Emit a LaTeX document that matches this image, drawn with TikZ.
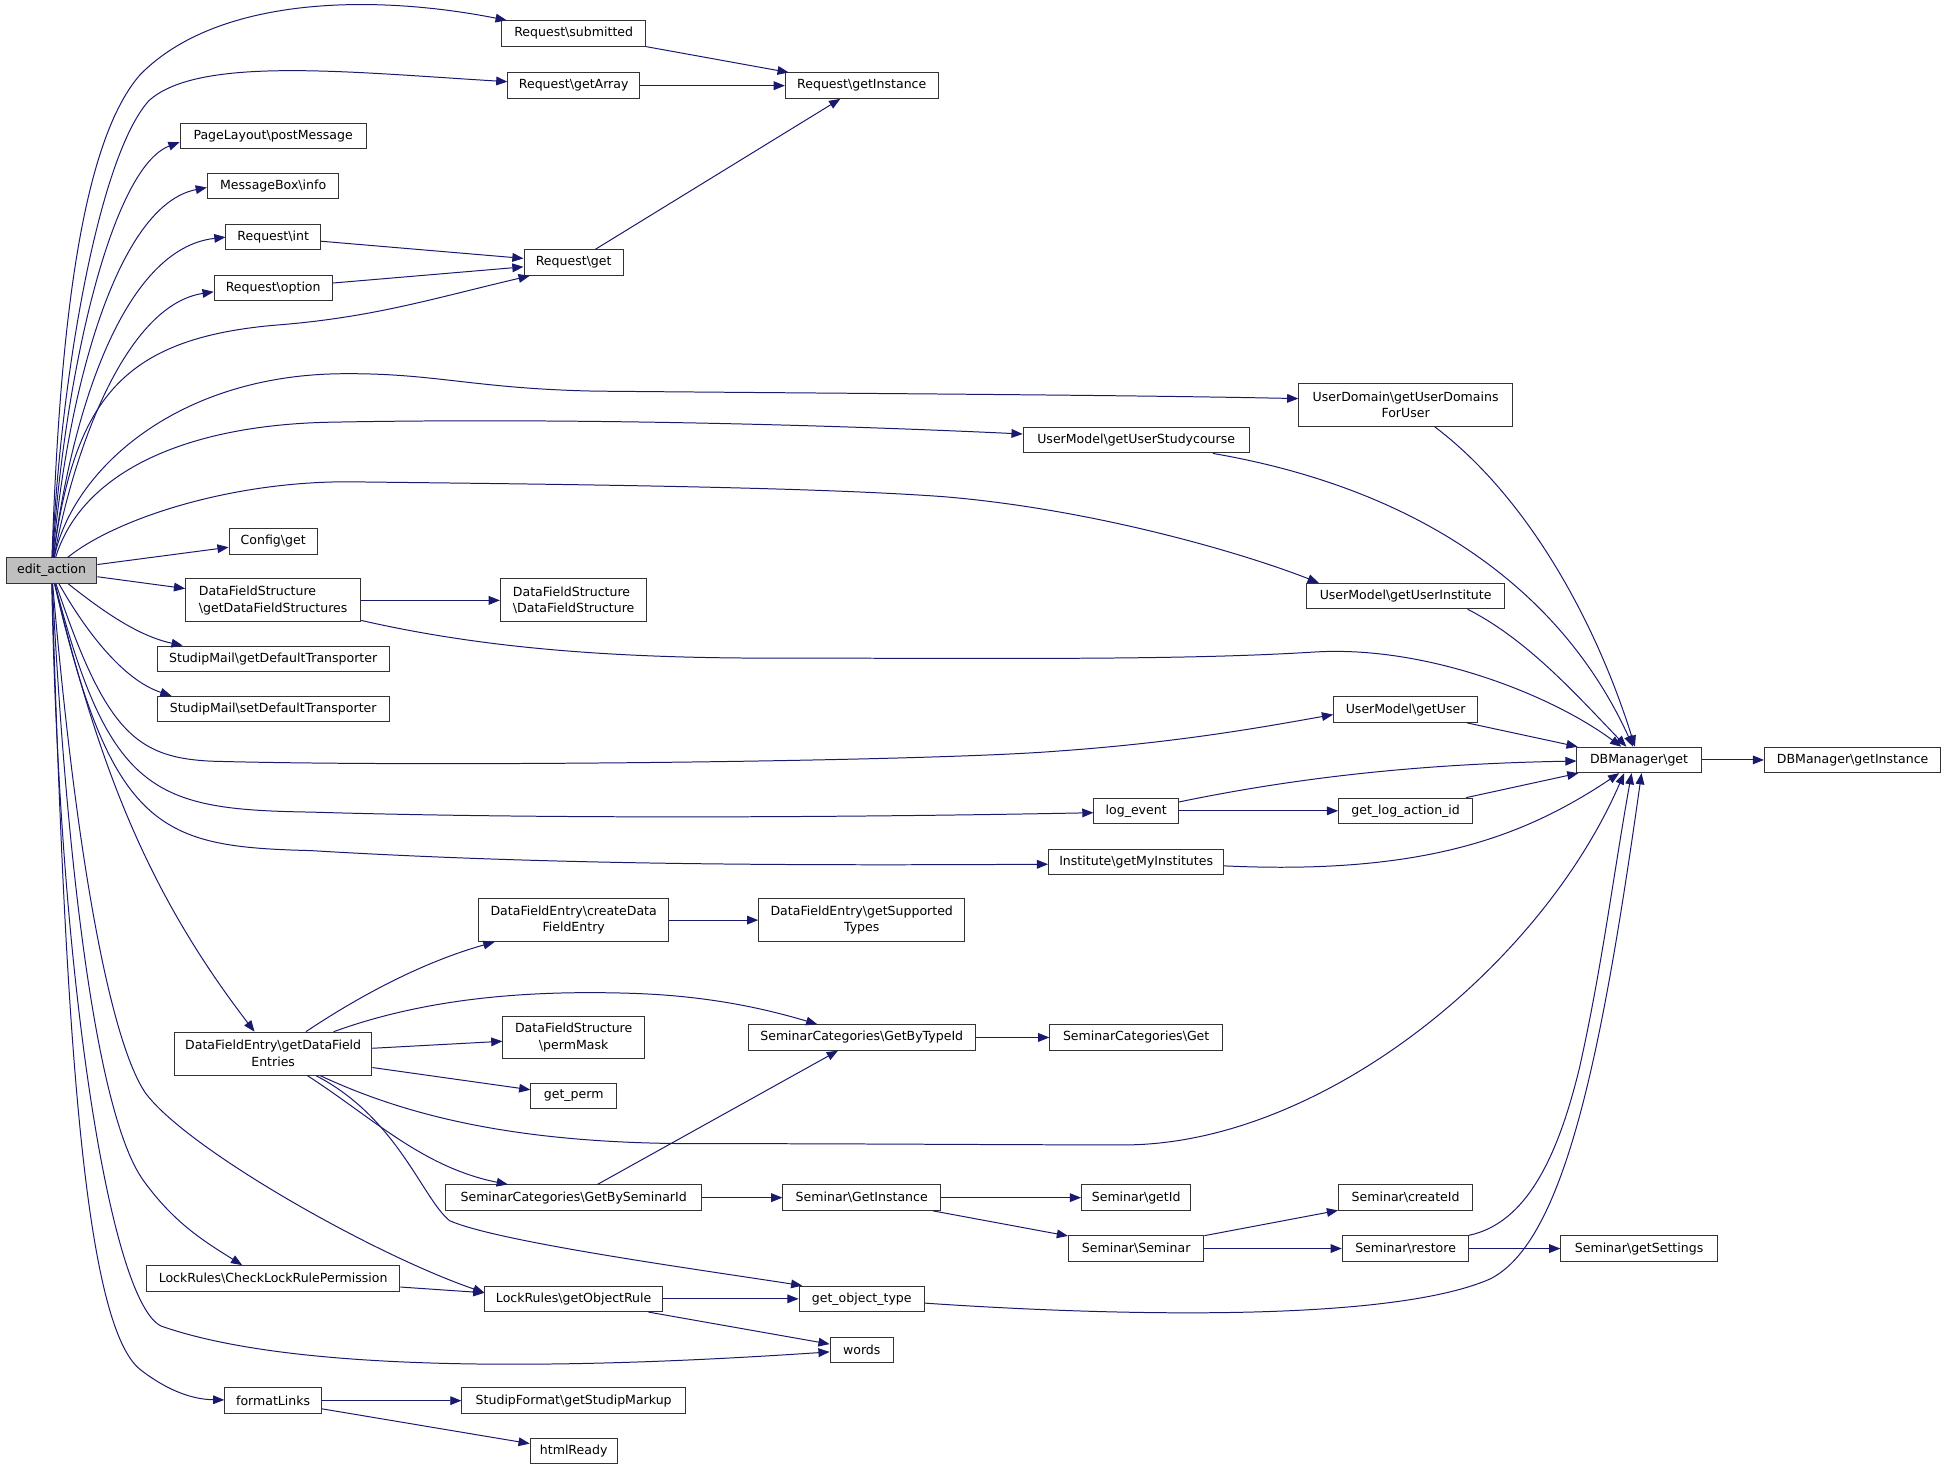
\documentclass[tikz,border=0pt]{standalone}
\usepackage{fontspec}
\setmainfont{DejaVu Sans}
\usetikzlibrary{arrows.meta}
\definecolor{edgeblue}{RGB}{25,25,112}
\definecolor{boxgray}{RGB}{191,191,191}
\newcommand{\bsl}{\textbackslash}
\begin{document}
\begin{tikzpicture}[x=1pt,y=-1pt,
  fn/.style={draw=black!80, line width=0.8pt, fill=white, font=\fontsize{10.1}{13.5}\selectfont, inner xsep=7pt, inner ysep=3pt, minimum height=20.5pt, align=center},
  fn2/.style={fn, minimum height=34.5pt},
  fnl/.style={fn2, align=left},
  call/.style={draw=edgeblue, line width=0.8pt, -{Triangle[length=9pt,width=7pt]}},
]
\fill[white] (0,0) rectangle (1568,1183.85);
\useasboundingbox (0,0) rectangle (1568,1183.85);

% nodes
\node[fn, minimum width=116pt] (sub) at (462,27) {Request\bsl submitted};
\node[fn, minimum width=106pt] (arr) at (462,69) {Request\bsl getArray};
\node[fn, minimum width=123pt] (rgi) at (694,69) {Request\bsl getInstance};
\node[fn, minimum width=150pt] (plm) at (220,109.5) {PageLayout\bsl postMessage};
\node[fn, minimum width=106pt] (mbi) at (220,150) {MessageBox\bsl info};
\node[fn, minimum width=76pt] (rint) at (220,191) {Request\bsl int};
\node[fn, minimum width=95pt] (ropt) at (220,232) {Request\bsl option};
\node[fn, minimum width=80pt] (rget) at (462,211.5) {Request\bsl get};
\node[fn2, minimum width=172pt] (udom) at (1132,326) {UserDomain\bsl getUserDomains\\ForUser};
\node[fn, minimum width=182pt] (usc) at (915,354.5) {UserModel\bsl getUserStudycourse};
\node[fn, minimum width=71pt] (cfg) at (220,436) {Config\bsl get};
\node[fn, minimum width=73pt, fill=boxgray] (ea) at (41.5,459.5) {edit\_action};
\node[fnl, minimum width=141pt] (dfs) at (220,483.5) {DataFieldStructure\\\bsl getDataFieldStructures};
\node[fnl, minimum width=118pt] (dfsd) at (462,483.5) {DataFieldStructure\\\bsl DataFieldStructure};
\node[fn, minimum width=159pt] (uins) at (1132,480) {UserModel\bsl getUserInstitute};
\node[fn, minimum width=187pt] (gdt) at (220,530.5) {StudipMail\bsl getDefaultTransporter};
\node[fn, minimum width=187pt] (sdt) at (220,571) {StudipMail\bsl setDefaultTransporter};
\node[fn, minimum width=116pt] (gu) at (1132,571.5) {UserModel\bsl getUser};
\node[fn, minimum width=100pt] (dbg) at (1320,612) {DBManager\bsl get};
\node[fn, minimum width=142pt] (dbi) at (1492,612) {DBManager\bsl getInstance};
\node[fn, minimum width=68pt] (logev) at (915,653) {log\_event};
\node[fn, minimum width=108pt] (glai) at (1132,653) {get\_log\_action\_id};
\node[fn, minimum width=141pt] (gmi) at (915,694) {Institute\bsl getMyInstitutes};
\node[fn2, minimum width=153pt] (cdfe) at (462,741) {DataFieldEntry\bsl createData\\FieldEntry};
\node[fn2, minimum width=166pt] (gst) at (694,741) {DataFieldEntry\bsl getSupported\\Types};
\node[fn2, minimum width=159pt] (gdfe) at (220,848.5) {DataFieldEntry\bsl getDataField\\Entries};
\node[fn2, minimum width=114pt] (pm) at (462,835.5) {DataFieldStructure\\\bsl permMask};
\node[fn, minimum width=183pt] (gbt) at (694,835.5) {SeminarCategories\bsl GetByTypeId};
\node[fn, minimum width=139pt] (scg) at (915,835.5) {SeminarCategories\bsl Get};
\node[fn, minimum width=69pt] (gp) at (462,882.5) {get\_perm};
\node[fn, minimum width=206pt] (gbs) at (462,964.5) {SeminarCategories\bsl GetBySeminarId};
\node[fn, minimum width=127pt] (sgi) at (694,964.5) {Seminar\bsl GetInstance};
\node[fn, minimum width=88pt] (sgid) at (915,964.5) {Seminar\bsl getId};
\node[fn, minimum width=108pt] (sci) at (1132,964.5) {Seminar\bsl createId};
\node[fn, minimum width=109pt] (ss) at (915,1005.5) {Seminar\bsl Seminar};
\node[fn, minimum width=102pt] (sr) at (1132,1005.5) {Seminar\bsl restore};
\node[fn, minimum width=126pt] (sgs) at (1320,1005.5) {Seminar\bsl getSettings};
\node[fn, minimum width=204pt] (clr) at (220,1029.5) {LockRules\bsl CheckLockRulePermission};
\node[fn, minimum width=143pt] (gor) at (462,1046) {LockRules\bsl getObjectRule};
\node[fn, minimum width=101pt] (got) at (694,1046) {get\_object\_type};
\node[fn, minimum width=51pt] (wd) at (694,1087) {words};
\node[fn, minimum width=78pt] (fl) at (220,1128) {formatLinks};
\node[fn, minimum width=180pt] (gsm) at (462,1128) {StudipFormat\bsl getStudipMarkup};
\node[fn, minimum width=70pt] (hr) at (462,1168.5) {htmlReady};

% edges from edit_action, upward
\draw[call] (ea) .. controls (47,300) and (60,120) .. (113,60) .. controls (175,-3) and (300,-5) .. (sub);
\draw[call] (ea) .. controls (49,300) and (80,125) .. (120,81) .. controls (160,45) and (280,58) .. (arr);
\draw[call] (ea) .. controls (52,300) and (90,135) .. ([yshift=-5pt]plm.west);
\draw[call] (ea) .. controls (55,310) and (95,165) .. ([yshift=-1pt]mbi.west);
\draw[call] (ea) .. controls (58,330) and (100,200) .. (rint.west);
\draw[call] (ea) .. controls (62,350) and (105,245) .. ([yshift=-3pt]ropt.west);
\draw[call] (ea) .. controls (60,320) and (100,273) .. (220,262) .. controls (300,256) and (350,240) .. ([xshift=5pt]rget.south west);
\draw[call] (ea) .. controls (58,380) and (140,303) .. (273,301) .. controls (350,300) and (380,313) .. (480,315) .. controls (700,317) and (900,318) .. ([yshift=5pt]udom.west);
\draw[call] (ea) .. controls (66,380) and (150,342) .. (267,340) .. controls (420,337) and (620,340) .. ([yshift=5pt]usc.west);
\draw[call] (ea) .. controls (90,420) and (180,388) .. (280,388) .. controls (450,390) and (650,392) .. (760,400) .. controls (880,410) and (1000,445) .. ([xshift=10pt]uins.north west);
\draw[call] (ea) -- (cfg);
\draw[call] (ea) -- (dfs);
% edges from edit_action, downward
\draw[call] (ea) .. controls (80,490) and (110,512) .. ([xshift=21pt]gdt.north west);
\draw[call] (ea) .. controls (70,510) and (100,548) .. ([xshift=12pt]sdt.north west);
\draw[call] (ea) .. controls (85,590) and (110,610) .. (170,613) .. controls (350,618) and (750,613) .. (850,605) .. controls (950,598) and (1020,585) .. ([yshift=-4pt]gu.west);
\draw[call] (ea) .. controls (88,640) and (125,652) .. (250,654) .. controls (450,660) and (700,658) .. ([yshift=-1.5pt]logev.west);
\draw[call] (ea) .. controls (90,670) and (130,682) .. (250,685) .. controls (450,697) and (650,697) .. ([yshift=-2pt]gmi.west);
\draw[call] (ea) .. controls (80,620) and (120,720) .. ([xshift=-15pt]gdfe.north);
\draw[call] (ea) .. controls (55,720) and (80,900) .. (115,950) .. controls (140,985) and (165,1000) .. ([xshift=-25pt]clr.north);
\draw[call] (ea) .. controls (62,700) and (90,840) .. (117,880) .. controls (150,925) and (300,1010) .. ([yshift=5pt]gor.west);
\draw[call] (ea) .. controls (48,800) and (90,1050) .. (130,1068) .. controls (250,1110) and (500,1100) .. (wd);
\draw[call] (ea) .. controls (52,800) and (65,1065) .. (113,1103) .. controls (135,1120) and (155,1127) .. (fl);

% Request group
\draw[call] (sub) -- (rgi);
\draw[call] (arr) -- (rgi);
\draw[call] (rget) -- (rgi);
\draw[call] (rint) -- (rget);
\draw[call] (ropt) -- (rget);

% DBManager group
\draw[call] (udom) .. controls (1230,400) and (1285,500) .. (dbg);
\draw[call] (usc) .. controls (1150,395) and (1260,480) .. (dbg);
\draw[call] ([xshift=-30pt]uins.south east) .. controls (1230,515) and (1270,560) .. (dbg);
\draw[call] (dfs) -- (dfsd);
\draw[call] (dfs) .. controls (380,520) and (480,530) .. (620,530) .. controls (800,530) and (950,532) .. (1060,525) .. controls (1150,520) and (1250,560) .. (dbg);
\draw[call] (gu) -- (dbg);
\draw[call] (logev) .. controls (1050,625) and (1150,615) .. (dbg);
\draw[call] (logev) -- (glai);
\draw[call] (glai) -- (dbg);
\draw[call] (gmi) .. controls (1150,705) and (1230,672) .. (dbg);
\draw[call] (dbg) -- (dbi);

% DataFieldEntry group
\draw[call] (cdfe) -- (gst);
\draw[call] (gdfe) .. controls (300,795) and (350,772) .. (cdfe);
\draw[call] (gdfe) .. controls (340,805) and (420,797) .. (510,800) .. controls (570,802) and (615,812) .. (gbt);
\draw[call] (gdfe) -- (pm);
\draw[call] (gdfe) -- (gp);
\draw[call] (gdfe) .. controls (330,900) and (420,921) .. (560,921) .. controls (700,921) and (800,922) .. (900,922) .. controls (1060,925) and (1240,780) .. ([xshift=-12pt]dbg.south);
\draw[call] (gdfe) .. controls (300,900) and (340,940) .. (gbs);
\draw[call] (gdfe) .. controls (320,900) and (340,965) .. (362,983) .. controls (400,1000) and (560,1022) .. ([xshift=3pt]got.north west);

% Seminar group
\draw[call] (gbt) -- (scg);
\draw[call] (gbs) -- (gbt);
\draw[call] (gbs) -- (sgi);
\draw[call] (sgi) -- (sgid);
\draw[call] (sgi) -- (ss);
\draw[call] (ss) -- (sci);
\draw[call] (ss) -- (sr);
\draw[call] (sr) -- (sgs);
\draw[call] (sr) .. controls (1230,985) and (1255,930) .. (1272,860) .. controls (1290,780) and (1300,700) .. ([xshift=-6pt]dbg.south);

% LockRules group
\draw[call] (clr) -- (gor);
\draw[call] (gor) -- (got);
\draw[call] (gor) -- (wd);
\draw[call] (got) .. controls (900,1060) and (1120,1065) .. (1200,1030) .. controls (1260,1000) and (1290,850) .. ([xshift=2pt]dbg.south);

% formatLinks group
\draw[call] (fl) -- (gsm);
\draw[call] (fl) -- (hr);
\end{tikzpicture}
\end{document}
